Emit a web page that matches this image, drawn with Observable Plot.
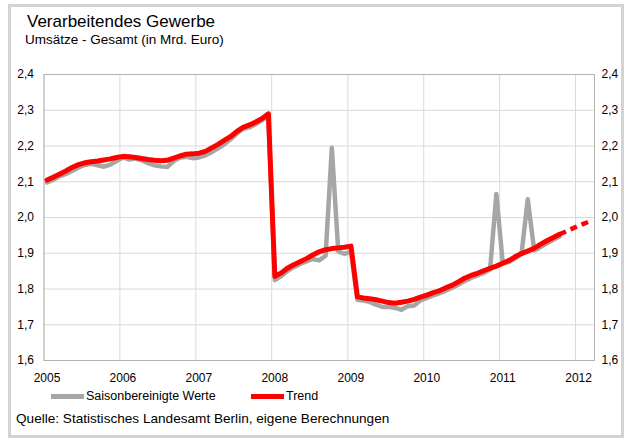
<!DOCTYPE html>
<html><head><meta charset="utf-8">
<script src="https://cdn.jsdelivr.net/npm/d3@7"></script>
<script src="https://cdn.jsdelivr.net/npm/@observablehq/plot@0.6"></script>
<style>
body{margin:0;background:#fff;font-family:"Liberation Sans",Arial,sans-serif;color:#000;}
#wrap{position:relative;width:629px;height:443px;overflow:hidden;background:#fff;}
#frame{position:absolute;left:8px;top:4px;width:610px;height:428px;border:3px solid #d3d3d3;}
.t{position:absolute;white-space:nowrap;}
#title{left:27px;top:12.6px;font-size:17px;line-height:17px;}
#subtitle{left:25px;top:32.6px;font-size:13.5px;line-height:13.5px;}
#chart{position:absolute;left:0;top:0;}
.sw{position:absolute;height:5px;}
.lg{font-size:12.5px;line-height:13px;}
#caption{left:16px;top:412px;font-size:13.6px;line-height:14px;}
</style>
</head><body>
<div id="wrap">
<div id="frame"></div>
<div id="chart"></div>
<div class="t" id="title">Verarbeitendes Gewerbe</div>
<div class="t" id="subtitle">Umsätze - Gesamt (in Mrd. Euro)</div>
<div class="sw" style="left:51px;top:394px;width:33px;background:#a6a6a6"></div>
<div class="t lg" style="left:86px;top:390px">Saisonbereinigte Werte</div>
<div class="sw" style="left:251px;top:394px;width:33px;background:#ff0000"></div>
<div class="t lg" style="left:286px;top:390px">Trend</div>
<div class="t" id="caption">Quelle: Statistisches Landesamt Berlin, eigene Berechnungen</div>
</div>
<script>
// Monthly values starting January 2005
const startYear = 2005;
const seasonallyAdjusted = [
  2.098, 2.106, 2.115, 2.122, 2.130, 2.140, 2.147, 2.150, 2.146, 2.142, 2.148, 2.158,
  2.168, 2.162, 2.165, 2.160, 2.152, 2.146, 2.143, 2.141, 2.158, 2.167, 2.170, 2.166,
  2.168, 2.174, 2.182, 2.193, 2.204, 2.218, 2.234, 2.248, 2.252, 2.261, 2.272, 2.284,
  1.825, 1.836, 1.850, 1.861, 1.870, 1.877, 1.884, 1.880, 1.893, 2.195, 1.905, 1.898,
  1.905, 1.770, 1.768, 1.764, 1.756, 1.750, 1.750, 1.747, 1.742, 1.752, 1.754, 1.768,
  1.775, 1.782, 1.788, 1.795, 1.803, 1.812, 1.822, 1.831, 1.838, 1.845, 1.855, 2.066,
  1.872, 1.876, 1.886, 1.898, 2.051, 1.908, 1.917, 1.928, 1.938, 1.947
];
const trend = [
  2.105, 2.113, 2.121, 2.130, 2.140, 2.148, 2.153, 2.156, 2.158, 2.161, 2.164, 2.168,
  2.171, 2.170, 2.168, 2.165, 2.162, 2.160, 2.159, 2.160, 2.166, 2.172, 2.177, 2.178,
  2.180, 2.185, 2.194, 2.204, 2.215, 2.226, 2.240, 2.252, 2.259, 2.267, 2.277, 2.290,
  1.835, 1.845, 1.858, 1.868, 1.876, 1.885, 1.895, 1.904, 1.910, 1.913, 1.915, 1.917,
  1.920, 1.778, 1.775, 1.773, 1.770, 1.766, 1.762, 1.760, 1.763, 1.766, 1.771, 1.777,
  1.783, 1.790, 1.795, 1.803, 1.810, 1.820, 1.830, 1.838, 1.844, 1.851, 1.858, 1.864,
  1.872, 1.880, 1.890, 1.899, 1.906, 1.914, 1.925, 1.935, 1.944, 1.953
];
// Trend forecast, October 2011 to March 2012
const forecastStartMonth = 81;
const forecast = [1.953, 1.961, 1.969, 1.977, 1.984, 1.991];
const yearTicks = [2005, 2006, 2007, 2008, 2009, 2010, 2011, 2012];
const valueTicks = [1.6, 1.7, 1.8, 1.9, 2.0, 2.1, 2.2, 2.3, 2.4];

const monthDate = i => new Date(Date.UTC(startYear, i, 16));
const grayData = seasonallyAdjusted.map((v, i) => ({date: monthDate(i), value: v}));
const trendData = trend.map((v, i) => ({date: monthDate(i), value: v}));
const fcData = forecast.map((v, i) => ({date: monthDate(forecastStartMonth + i), value: v}));
const yearDates = yearTicks.map(y => new Date(Date.UTC(y, 0, 1)));
const fmt = d => d.toFixed(1).replace(".", ",");

const chart = Plot.plot({
  width: 629,
  height: 395,
  marginLeft: 43.5,
  marginRight: 35,
  marginTop: 74,
  marginBottom: 35,
  style: {fontFamily: '"Liberation Sans", Arial, sans-serif', fontSize: "12px", background: "transparent", color: "#000"},
  x: {type: "utc", domain: [new Date(Date.UTC(2005, 0, 1)), new Date(Date.UTC(2012, 3, 1))], label: null},
  y: {domain: [1.6, 2.4], label: null},
  marks: [
    Plot.gridY(valueTicks, {stroke: "#d9d9d9", strokeOpacity: 1}),
    Plot.gridX(yearDates, {stroke: "#d9d9d9", strokeOpacity: 1}),
    Plot.frame({stroke: "#b3b3b3"}),
    Plot.axisX(yearDates, {label: null, tickSize: 0, tickPadding: 12.5, tickFormat: d3.utcFormat("%Y"), dx: 3, fill: "#000", fontSize: 12}),
    Plot.axisY(valueTicks, {anchor: "left", label: null, tickSize: 0, tickPadding: 10, tickFormat: fmt, fill: "#000", fontSize: 12}),
    Plot.axisY(valueTicks, {anchor: "right", label: null, tickSize: 0, tickPadding: 7, tickFormat: fmt, fill: "#000", fontSize: 12}),
    Plot.line(grayData, {x: "date", y: "value", stroke: "#a6a6a6", strokeWidth: 4.5, strokeLinejoin: "round", strokeLinecap: "round"}),
    Plot.line(trendData, {x: "date", y: "value", stroke: "#ff0000", strokeWidth: 5, strokeLinejoin: "round", strokeLinecap: "round"}),
    Plot.line(fcData, {x: "date", y: "value", stroke: "#ff0000", strokeWidth: 4.5, strokeDasharray: "7,5", strokeLinecap: "butt"})
  ]
});
document.getElementById("chart").appendChild(chart);
</script>
</body></html>
